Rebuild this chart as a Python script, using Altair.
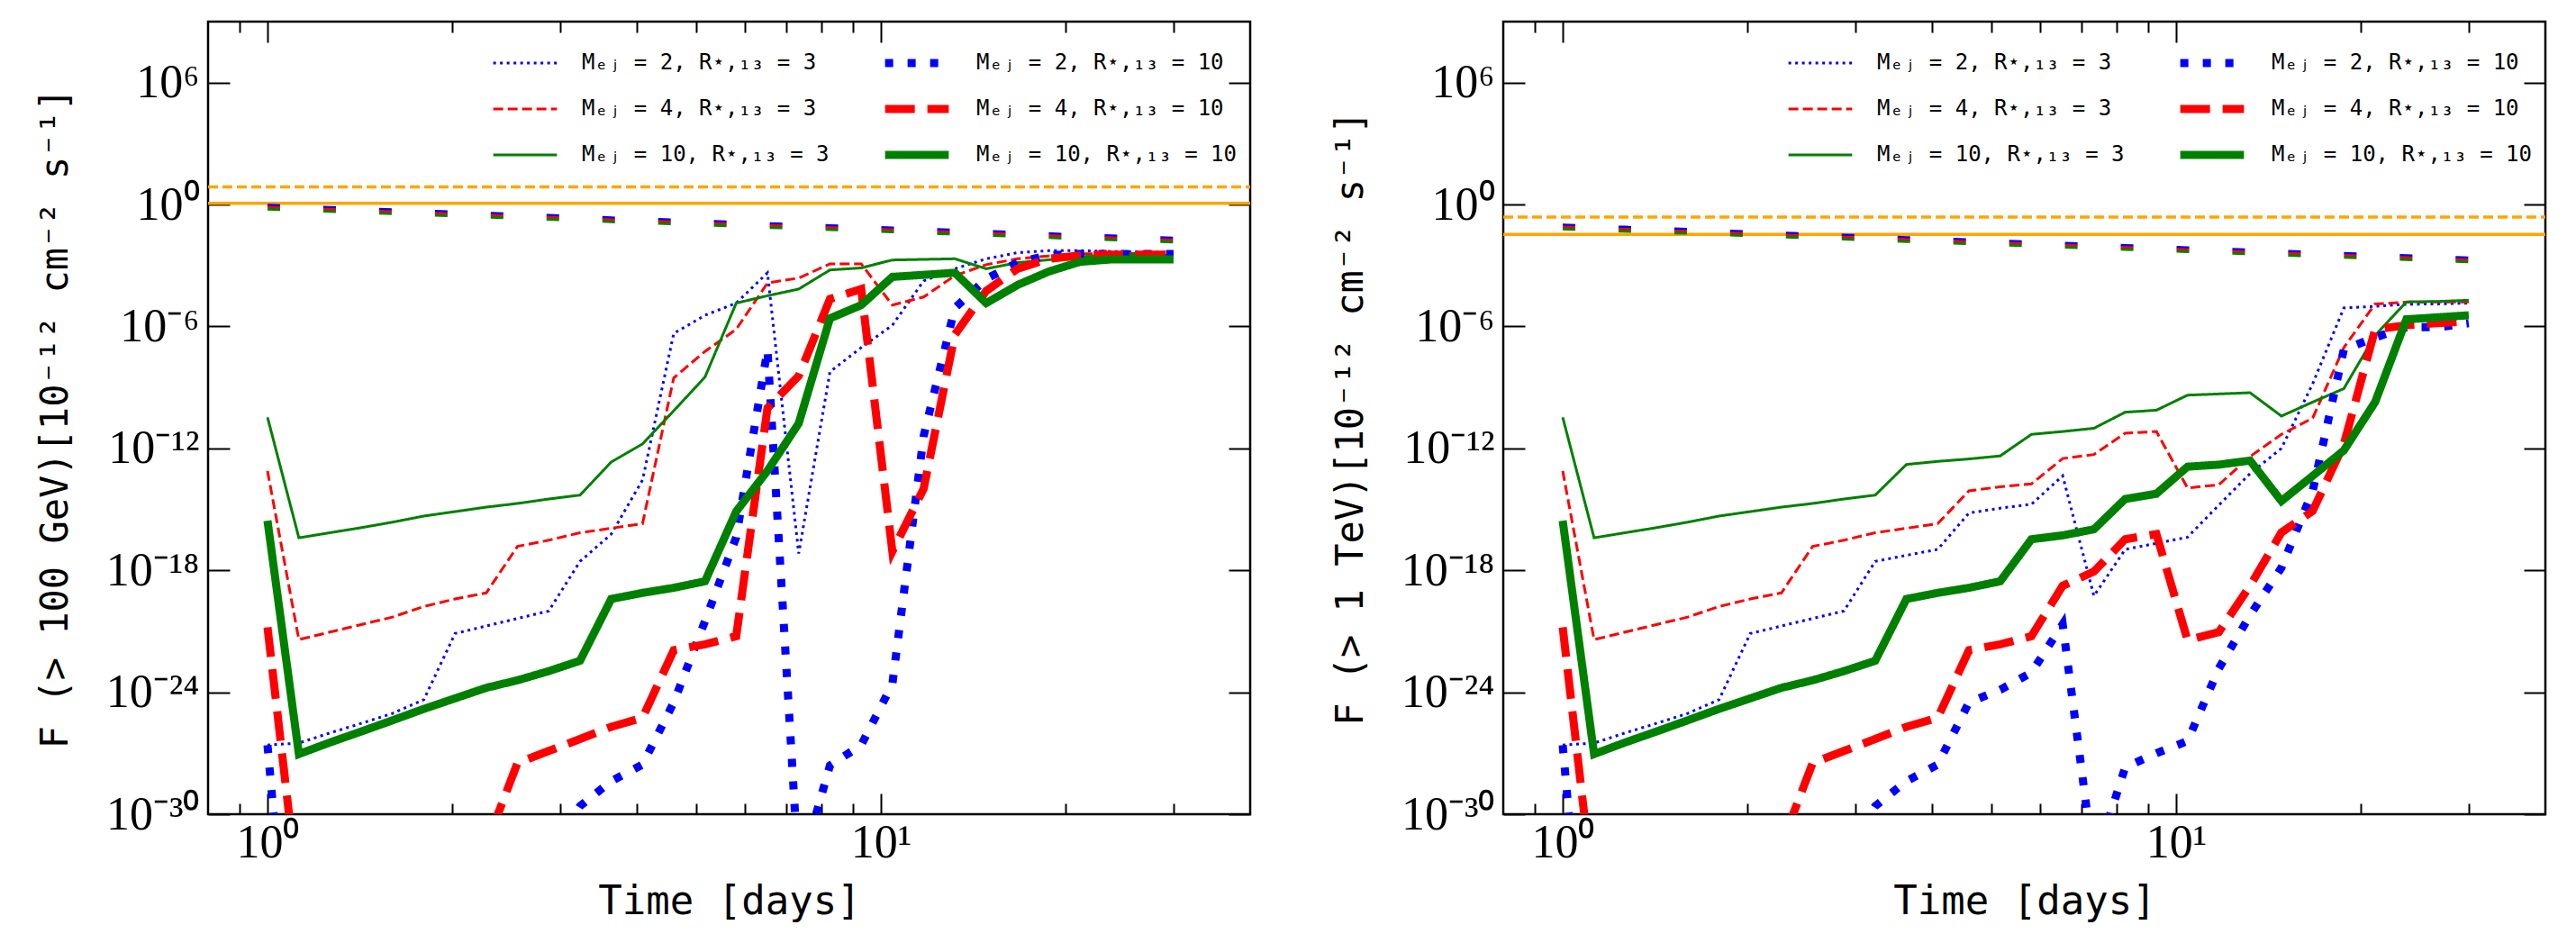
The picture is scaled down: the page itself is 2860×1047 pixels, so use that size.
"""Curvas de luz F(>E) frente al tiempo: paneles >100 GeV y >1 TeV."""

import json

import altair as alt
import pandas as pd

# tiempo [días]
TIME = [1.0, 1.125, 1.264, 1.422, 1.599, 1.798, 2.022, 2.273, 2.556, 2.874,
        3.232, 3.634, 4.087, 4.595, 5.167, 5.81, 6.533, 7.346, 8.26, 9.288,
        10.44, 11.74, 13.2, 14.85, 16.7, 18.77, 21.11, 23.74, 26.69, 30.0]

# log10 F(>100 GeV) [1e-12 cm^-2 s^-1]
GEV_B3 = [-26.6, -26.5, -26.0, -25.53, -25.04, -24.37, -21.11, -20.74, -20.37, -20.0,
          -17.56, -16.22, -13.56, -6.34, -5.45, -4.85, -3.36, -17.17, -8.23, -7.04,
          -5.94, -3.76, -3.16, -2.67, -2.37, -2.27, -2.27, -2.31, -2.33, -2.37]
GEV_R3 = [-13.11, -21.41, -21.04, -20.67, -20.3, -19.78, -19.41, -19.11, -16.82, -16.52,
          -16.15, -15.93, -15.7, -8.53, -7.23, -6.14, -3.86, -3.62, -2.92, -2.92,
          -4.95, -4.55, -3.5, -2.96, -2.67, -2.53, -2.43, -2.41, -2.41, -2.41]
GEV_G3 = [-10.47, -16.4, -16.15, -15.9, -15.63, -15.33, -15.11, -14.89, -14.71, -14.49,
          -14.3, -12.67, -11.78, -10.15, -8.49, -4.85, -4.49, -4.16, -3.22, -3.12,
          -2.73, -2.7, -2.67, -3.16, -2.86, -2.72, -2.57, -2.47, -2.47, -2.51]
GEV_B10 = [-26.6, -44, -42, -41, -40, -39, -38, -36, -34, -32,
           -29.6, -28.37, -27.56, -24.5, -20.5, -16.37, -7.14, -33, -27.6, -26.6,
           -23.6, -11.4, -5.09, -3.66, -2.86, -2.5, -2.43, -2.43, -2.43, -2.43]
GEV_R10 = [-20.8, -34.2, -38, -38, -37, -36, -35, -31.5, -27.48, -26.89,
           -26.3, -25.7, -25.26, -21.93, -21.64, -21.24, -10.02, -8.43, -4.65, -4.16,
           -17.07, -13.99, -6.4, -4.25, -3.16, -2.67, -2.51, -2.47, -2.47, -2.47]
GEV_G10 = [-15.56, -27.04, -26.47, -25.93, -25.38, -24.82, -24.3, -23.78, -23.41, -22.96,
           -22.45, -19.41, -19.11, -18.86, -18.54, -15.1, -13.1, -10.77, -5.6, -4.95,
           -3.56, -3.46, -3.36, -4.85, -3.96, -3.3, -2.82, -2.7, -2.7, -2.7]

# log10 F(>1 TeV) [1e-12 cm^-2 s^-1]
TEV_B3 = [-26.6, -26.5, -26.0, -25.53, -25.04, -24.37, -21.11, -20.74, -20.37, -20.0,
          -17.56, -17.26, -16.97, -15.18, -14.94, -14.75, -13.35, -19.26, -16.97, -16.67,
          -16.37, -14.79, -13.24, -12.0, -8.82, -5.09, -5.01, -4.91, -4.89, -4.85]
TEV_R3 = [-13.11, -21.41, -21.04, -20.67, -20.3, -19.78, -19.41, -19.11, -16.82, -16.52,
          -16.15, -15.93, -15.7, -14.09, -13.89, -13.75, -12.5, -12.3, -11.25, -11.17,
          -13.95, -13.79, -12.4, -11.31, -10.51, -7.04, -4.89, -4.81, -4.79, -4.79]
TEV_G3 = [-10.47, -16.4, -16.15, -15.9, -15.63, -15.33, -15.11, -14.89, -14.71, -14.49,
          -14.3, -12.79, -12.64, -12.52, -12.37, -11.31, -11.17, -11.01, -10.22, -10.12,
          -9.38, -9.32, -9.26, -10.41, -9.72, -9.06, -6.44, -4.79, -4.77, -4.71]
TEV_B10 = [-26.6, -44, -42, -41, -40, -39, -38, -36, -34, -32,
           -29.6, -28.37, -27.56, -24.5, -23.88, -23.03, -20.65, -32.5, -27.7, -27.0,
           -26.4, -22.83, -20.21, -17.87, -14.09, -7.14, -6.54, -6.04, -6.04, -5.84]
TEV_R10 = [-20.8, -34.2, -38, -38, -37, -36, -35, -31.5, -27.48, -26.89,
           -26.3, -25.7, -25.26, -21.93, -21.64, -21.24, -18.76, -18.06, -16.47, -16.22,
           -21.44, -21.04, -18.76, -16.14, -15.08, -11.8, -6.14, -5.94, -5.84, -5.74]
TEV_G10 = [-15.56, -27.04, -26.47, -25.93, -25.38, -24.82, -24.3, -23.78, -23.41, -22.96,
           -22.45, -19.41, -19.11, -18.86, -18.54, -16.47, -16.28, -15.98, -14.49, -14.23,
           -12.9, -12.8, -12.6, -14.59, -13.35, -12.1, -9.72, -5.65, -5.55, -5.45]

# curvas punteadas superiores (log10)
GEV_MK_B = [-0.03, -0.09, -0.14, -0.2, -0.25, -0.31, -0.37, -0.42, -0.48, -0.53,
            -0.59, -0.65, -0.7, -0.76, -0.81, -0.87, -0.93, -0.98, -1.04, -1.09,
            -1.15, -1.21, -1.26, -1.32, -1.37, -1.43, -1.49, -1.54, -1.6, -1.65]
GEV_MK_R = [-0.13, -0.19, -0.24, -0.3, -0.35, -0.41, -0.47, -0.52, -0.58, -0.63,
            -0.69, -0.75, -0.8, -0.86, -0.91, -0.97, -1.03, -1.08, -1.14, -1.19,
            -1.25, -1.31, -1.36, -1.42, -1.47, -1.53, -1.59, -1.64, -1.7, -1.75]
GEV_MK_G = [-0.23, -0.29, -0.34, -0.4, -0.45, -0.51, -0.57, -0.62, -0.68, -0.73,
            -0.79, -0.85, -0.9, -0.96, -1.01, -1.07, -1.13, -1.18, -1.24, -1.29,
            -1.35, -1.41, -1.46, -1.52, -1.57, -1.63, -1.69, -1.74, -1.8, -1.85]
TEV_MK_B = [-1.0, -1.06, -1.11, -1.17, -1.22, -1.28, -1.34, -1.39, -1.45, -1.5,
            -1.56, -1.62, -1.67, -1.73, -1.78, -1.84, -1.9, -1.95, -2.01, -2.06,
            -2.12, -2.18, -2.23, -2.29, -2.34, -2.4, -2.46, -2.51, -2.57, -2.62]
TEV_MK_R = [-1.1, -1.16, -1.21, -1.27, -1.32, -1.38, -1.44, -1.49, -1.55, -1.6,
            -1.66, -1.72, -1.77, -1.83, -1.88, -1.94, -2.0, -2.05, -2.11, -2.16,
            -2.22, -2.28, -2.33, -2.39, -2.44, -2.5, -2.56, -2.61, -2.67, -2.72]
TEV_MK_G = [-1.2, -1.26, -1.31, -1.37, -1.42, -1.48, -1.54, -1.59, -1.65, -1.7,
            -1.76, -1.82, -1.87, -1.93, -1.98, -2.04, -2.1, -2.15, -2.21, -2.26,
            -2.32, -2.38, -2.43, -2.49, -2.54, -2.6, -2.66, -2.71, -2.77, -2.82]

# líneas naranjas horizontales (log10): continua, discontinua
GEV_ORANGE = [0.06, 0.87]
TEV_ORANGE = [-1.47, -0.62]

X_LIM = [0.8, 40]
Y_LIM = [1e-30, 1e9]
X_MAJOR = [1, 10]
X_MAJOR_LABELS = ["10⁰", "10¹"]
X_MINOR = [0.9, 2, 3, 4, 5, 6, 7, 8, 9, 20, 30]
Y_MAJOR = [1e-30, 1e-24, 1e-18, 1e-12, 1e-6, 1, 1e6]
Y_MAJOR_LABELS = ["10⁻³⁰", "10⁻²⁴", "10⁻¹⁸", "10⁻¹²", "10⁻⁶", "10⁰", "10⁶"]

# series: R = 3 (finas) y R = 10 (gruesas)
THIN_NAMES = ["Mₑⱼ = 2, R⋆,₁₃ = 3", "Mₑⱼ = 4, R⋆,₁₃ = 3", "Mₑⱼ = 10, R⋆,₁₃ = 3"]
THICK_NAMES = ["Mₑⱼ = 2, R⋆,₁₃ = 10", "Mₑⱼ = 4, R⋆,₁₃ = 10", "Mₑⱼ = 10, R⋆,₁₃ = 10"]
COLORS = ["#0000ff", "#ff0000", "#008000"]
THIN_DASHES = [[3, 4.5], [11, 5], [1, 0]]
THICK_DASHES = [[9, 16], [33, 14], [1, 0]]
ORANGE = "#ffa500"

W, H = 1157, 880
SERIF = "Liberation Serif"
MONO = "DejaVu Sans Mono"


def _tick_axis(orient, values, size):
    """Eje solo con marcas hacia dentro (se coloca en el borde opuesto)."""
    off = -H if orient in ("top", "bottom") else -W
    return alt.Axis(orient=orient, offset=off, values=values, labels=False, domain=False,
                    grid=False, ticks=True, tickSize=size, tickWidth=2, tickColor="black",
                    title=None)


def _lineas(series, nombres, dashes, ancho, leg_x, xs, ys):
    filas = []
    for nombre, vals in zip(nombres, series):
        for t, v in zip(TIME, vals):
            filas.append({"t": t, "f": 10 ** v, "s": nombre})
    leyenda = alt.Legend(
        orient="none", legendX=leg_x, legendY=31, title=None,
        symbolType="stroke", symbolSize=5000, symbolStrokeWidth=ancho,
        labelFont=MONO, labelFontSize=24, labelColor="black", labelOffset=26,
        labelLimit=500, rowPadding=21, clipHeight=30, padding=0,
    )
    return alt.Chart(pd.DataFrame(filas)).mark_line(clip=True, strokeWidth=ancho).encode(
        x=alt.X("t:Q", scale=xs, axis=None),
        y=alt.Y("f:Q", scale=ys, axis=None),
        color=alt.Color("s:N", scale=alt.Scale(domain=nombres, range=COLORS), legend=leyenda),
        strokeDash=alt.StrokeDash("s:N", scale=alt.Scale(domain=nombres, range=dashes),
                                  legend=leyenda),
    )


def panel(thin, thick, markers, orange, ytitle):
    xs = alt.Scale(type="log", domain=X_LIM, nice=False)
    ys = alt.Scale(type="log", domain=Y_LIM, nice=False)

    x_lab = alt.Axis(orient="bottom", values=X_MAJOR, ticks=False, tickSize=0, domain=False,
                     grid=False, labelFont=SERIF, labelFontSize=52, labelPadding=6,
                     labelColor="black", labelOverlap=False,
                     labelExpr=f"{json.dumps(X_MAJOR_LABELS, ensure_ascii=False)}"
                               f"[round(log(datum.value)/LN10)]",
                     title="Time [days]", titleFont=MONO, titleFontSize=44,
                     titleFontWeight="normal", titleColor="black", titleY=97,
                     titleBaseline="middle")
    y_lab = alt.Axis(orient="left", values=Y_MAJOR, ticks=False, tickSize=0, domain=False,
                     grid=False, labelFont=SERIF, labelFontSize=52, labelPadding=10,
                     labelColor="black", labelOverlap=False,
                     labelExpr=f"{json.dumps(Y_MAJOR_LABELS, ensure_ascii=False)}"
                               f"[round(log(datum.value)/LN10/6) + 5]",
                     title=ytitle, titleFont=MONO, titleFontSize=42,
                     titleFontWeight="normal", titleColor="black", titleX=-170, titleY=H / 2,
                     titleAngle=270, titleAlign="center", titleBaseline="middle")

    capas = []
    # naranja continua: ejes con etiquetas
    capas.append(alt.Chart(pd.DataFrame({"t": X_LIM, "f": [10 ** orange[0]] * 2}))
                 .mark_line(color=ORANGE, strokeWidth=3.5, clip=True)
                 .encode(x=alt.X("t:Q", scale=xs, axis=x_lab),
                         y=alt.Y("f:Q", scale=ys, axis=y_lab)))
    # naranja discontinua: marcas mayores abajo e izquierda
    capas.append(alt.Chart(pd.DataFrame({"t": X_LIM, "f": [10 ** orange[1]] * 2}))
                 .mark_line(color=ORANGE, strokeWidth=3.5, strokeDash=[11, 5], clip=True)
                 .encode(x=alt.X("t:Q", scale=xs, axis=_tick_axis("top", X_MAJOR, 23)),
                         y=alt.Y("f:Q", scale=ys, axis=_tick_axis("right", Y_MAJOR, 24))))
    # curvas punteadas superiores (azul, rojo, verde)
    ejes = [
        (_tick_axis("bottom", X_MAJOR, 23), _tick_axis("left", Y_MAJOR, 24)),
        (_tick_axis("top", X_MINOR, 12), None),
        (_tick_axis("bottom", X_MINOR, 12), None),
    ]
    for vals, color, (ax, ay) in zip(markers, COLORS, ejes):
        capas.append(alt.Chart(pd.DataFrame({"t": TIME, "f": [10 ** v for v in vals]}))
                     .mark_line(color=color, strokeWidth=3, strokeDash=[14, 48], clip=True)
                     .encode(x=alt.X("t:Q", scale=xs, axis=ax),
                             y=alt.Y("f:Q", scale=ys, axis=ay)))

    capas.append(_lineas(thin, THIN_NAMES, THIN_DASHES, 3, 315, xs, ys))
    capas.append(_lineas(thick, THICK_NAMES, THICK_DASHES, 9, 747, xs, ys))

    return (alt.layer(*capas)
            .resolve_axis(x="independent", y="independent")
            .resolve_scale(color="independent", strokeDash="independent")
            .resolve_legend(color="independent", strokeDash="independent")
            .properties(width=W, height=H))


izq = panel([GEV_B3, GEV_R3, GEV_G3], [GEV_B10, GEV_R10, GEV_G10],
            [GEV_MK_B, GEV_MK_R, GEV_MK_G], GEV_ORANGE,
            "F (> 100 GeV)[10⁻¹² cm⁻² s⁻¹]")
der = panel([TEV_B3, TEV_R3, TEV_G3], [TEV_B10, TEV_R10, TEV_G10],
            [TEV_MK_B, TEV_MK_R, TEV_MK_G], TEV_ORANGE,
            "F (> 1 TeV)[10⁻¹² cm⁻² s⁻¹]")

chart = (
    alt.hconcat(izq, der, spacing=281, bounds="flush")
    .resolve_scale(color="independent", strokeDash="independent")
    .resolve_legend(color="independent", strokeDash="independent")
    .properties(padding={"left": 30, "top": 13, "right": 5, "bottom": 5})
    .configure_view(stroke="black", strokeWidth=2.5)
)

chart.save("out.html", embed_options={"renderer": "svg", "actions": False})
